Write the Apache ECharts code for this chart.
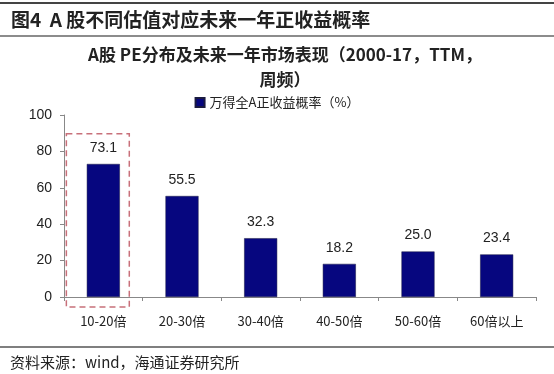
<!DOCTYPE html>
<html><head><meta charset="utf-8">
<script src="https://cdn.jsdelivr.net/npm/echarts@6/dist/echarts.min.js"></script>
<style>html,body{margin:0;padding:0;background:#fff}#c{width:554px;height:374px}</style>
</head><body><div id="c"></div>
<script>
const categories = ['10-20倍','20-30倍','30-40倍','40-50倍','50-60倍','60倍以上'];
const values = [73.1, 55.5, 32.3, 18.2, 25.0, 23.4];
const yTicks = [0, 20, 40, 60, 80, 100];
const seriesName = '万得全A正收益概率（%）';
const highlightCategory = '10-20倍';

const GL = 64, GR = 18, GT = 115, GB = 77;
const chart = echarts.init(document.getElementById('c'), null, {renderer:'canvas'});
const cjk = '"Noto Sans CJK SC", "Liberation Sans", sans-serif';
const opt = {
  animation:false,
  textStyle:{fontFamily:cjk},
  title:[
    {text:'图4  A 股不同估值对应未来一年正收益概率', left:11, top:10, padding:0,
     textStyle:{fontSize:19, fontWeight:'bold', color:'#222', fontFamily:cjk}},
    {text:'A股 PE分布及未来一年市场表现（2000-17，TTM，\n周频）', left:285, textAlign:'center', top:42, padding:0,
     textStyle:{fontSize:17, fontWeight:'bold', color:'#222', lineHeight:25, fontFamily:cjk}},
    {text:'资料来源：wind，海通证券研究所', left:10, top:355, padding:0,
     textStyle:{fontSize:15, fontWeight:'normal', color:'#222', fontFamily:cjk}}
  ],
  legend:{data:[seriesName], top:96, left:'center', padding:0, itemWidth:9, itemHeight:9, itemGap:4,
    icon:'rect', textStyle:{fontSize:13, color:'#222'}},
  grid:{left:GL, right:GR, top:GT, bottom:GB},
  xAxis:{type:'category', data:categories,
    axisLine:{lineStyle:{color:'#888'}},
    axisTick:{show:true, lineStyle:{color:'#888'}, length:4, alignWithLabel:false},
    axisLabel:{fontSize:13, color:'#222', margin:18}},
  yAxis:{type:'value', min:yTicks[0], max:yTicks[yTicks.length-1], interval:20,
    splitLine:{show:false},
    axisLine:{show:true, lineStyle:{color:'#888'}},
    axisTick:{show:true, inside:false, length:4, lineStyle:{color:'#888'}},
    axisLabel:{fontSize:14, color:'#222', margin:12, fontFamily:'"Liberation Sans", sans-serif'}},
  series:[{name:seriesName, type:'bar', data:values, barWidth:'42%',
    itemStyle:{color:'#06067f', borderColor:'#1a1a40', borderWidth:0.5},
    label:{show:true, position:'top', distance:9, fontSize:14, color:'#222',
      fontFamily:'"Liberation Sans", sans-serif', formatter:p=>p.value.toFixed(1)}}]
};
chart.setOption(opt);

// header rules and highlight box placed from axis scale
const idx = categories.indexOf(highlightCategory);
const pC = chart.convertToPixel({xAxisIndex:0, yAxisIndex:0}, [idx, 89.7]);
const pZero = chart.convertToPixel({yAxisIndex:0}, -5.5);
const bandW = (chart.getWidth() - GL - GR) / categories.length;
chart.setOption({graphic:[
  {type:'line', shape:{x1:0,y1:3,x2:554,y2:3}, style:{stroke:'#444', lineWidth:2}},
  {type:'line', shape:{x1:0,y1:36,x2:554,y2:36}, style:{stroke:'#666', lineWidth:1.5}},
  {type:'line', shape:{x1:0,y1:347,x2:554,y2:347}, style:{stroke:'#555', lineWidth:1.5}},
  {type:'rect', shape:{x:pC[0]-bandW*0.47, y:pC[1], width:bandW*0.8, height:pZero-pC[1]},
   style:{fill:'none', stroke:'#c8707a', lineWidth:1.5, lineDash:[6,4]}, z:10}
]});
</script></body></html>
